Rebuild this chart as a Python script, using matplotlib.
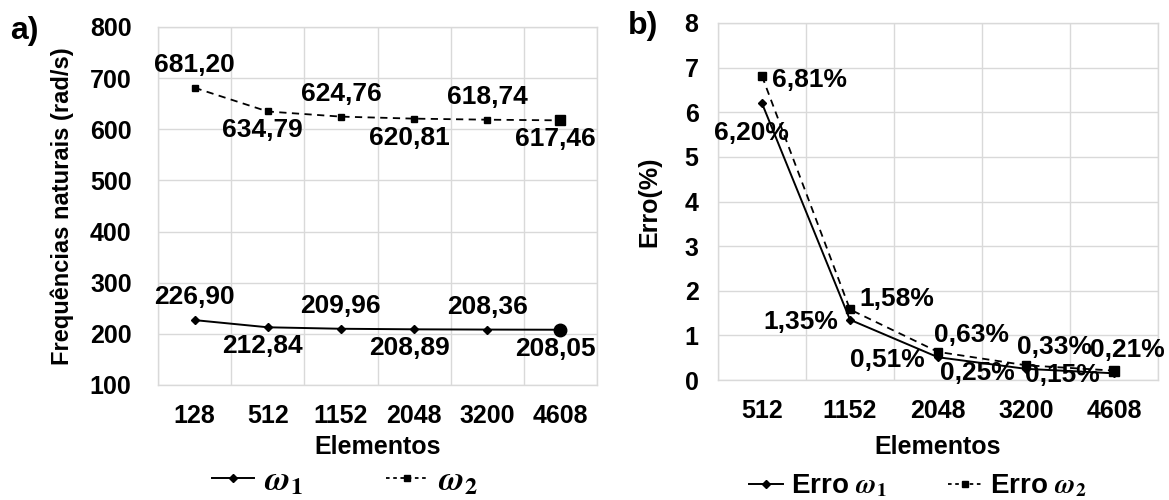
import matplotlib
matplotlib.use("Agg")
import matplotlib.pyplot as plt
from matplotlib.lines import Line2D

plt.rcParams['font.family'] = ['Liberation Sans', 'DejaVu Sans']
plt.rcParams['font.weight'] = 'bold'
plt.rcParams['mathtext.fontset'] = 'stix'

# ---- data ----
elements_a = ["128", "512", "1152", "2048", "3200", "4608"]
omega1 = [226.90, 212.84, 209.96, 208.89, 208.36, 208.05]
omega2 = [681.20, 634.79, 624.76, 620.81, 618.74, 617.46]
labels_w1 = ["226,90", "212,84", "209,96", "208,89", "208,36", "208,05"]
labels_w2 = ["681,20", "634,79", "624,76", "620,81", "618,74", "617,46"]

elements_b = ["512", "1152", "2048", "3200", "4608"]
err1 = [6.20, 1.35, 0.51, 0.25, 0.15]
err2 = [6.81, 1.58, 0.63, 0.33, 0.21]
labels_e1 = ["6,20%", "1,35%", "0,51%", "0,25%", "0,15%"]
labels_e2 = ["6,81%", "1,58%", "0,63%", "0,33%", "0,21%"]

W, H = 1169, 500
FS = 18
DFS = 19
grid_c = '#d9d9d9'

fig = plt.figure(figsize=(W / 100, H / 100), dpi=100)

def px_axes(x0, x1, y0, y1):
    return fig.add_axes([x0 / W, 1 - y1 / H, (x1 - x0) / W, (y1 - y0) / H])

axa = px_axes(158, 597, 27, 385)
axb = px_axes(718, 1158, 23, 380)

def style(ax, ypad):
    for s in ax.spines.values():
        s.set_color(grid_c)
        s.set_linewidth(1.0)
    ax.grid(True, which='major', color=grid_c, linewidth=1.0)
    ax.set_axisbelow(True)
    ax.tick_params(axis='y', length=0, labelsize=FS, pad=ypad)
    ax.tick_params(axis='x', which='both', length=0, labelsize=FS, pad=14)
    for t in ax.get_yticklabels() + ax.get_xticklabels(minor=True):
        t.set_fontweight('bold')

def cat_axis(ax, cats):
    n = len(cats)
    ax.set_xlim(-0.5, n - 0.5)
    ax.set_xticks([i - 0.5 for i in range(n + 1)])
    ax.set_xticklabels([""] * (n + 1))
    ax.set_xticks(list(range(n)), minor=True)
    ax.set_xticklabels(cats, minor=True)

# ---- panel a ----
xa = list(range(len(elements_a)))
axa.plot(xa, omega1, color='black', lw=1.4, marker='D', ms=4)
axa.plot(xa[-1], omega1[-1], 'o', color='black', ms=9)
axa.plot(xa, omega2, color='black', lw=1.3, ls=(0, (4, 3)), marker='s', ms=5)
axa.plot(xa[-1], omega2[-1], 's', color='black', ms=7.5)
cat_axis(axa, elements_a)
axa.set_ylim(100, 800)
axa.set_yticks(range(100, 801, 100))
style(axa, 19)
axa.set_ylabel("Frequências naturais (rad/s)", fontsize=17, fontweight='bold')
axa.yaxis.set_label_coords((74 - 158) / 439, 0.5)
axa.set_xlabel("Elementos", fontsize=FS, fontweight='bold')
axa.xaxis.set_label_coords(0.5, -(435 - 385) / 358, transform=axa.transAxes)

for series, labs in ((omega2, labels_w2), (omega1, labels_w1)):
    for i, (v, t) in enumerate(zip(series, labs)):
        dy = 23 if i % 2 == 0 else -19
        dx = 0 if i % 2 == 0 else -5
        axa.annotate(t, (xa[i], v), xytext=(dx, dy), textcoords='offset pixels',
                     ha='center', va='center', fontsize=DFS, fontweight='bold')

fig.text(10 / W, 1 - 31 / H, "a)", fontsize=23, fontweight='bold', va='center', ha='left')

h1 = Line2D([], [], color='black', lw=1.4, marker='D', ms=4)
h2 = Line2D([], [], color='black', lw=1.3, ls=(0, (2, 2)), marker='s', ms=5)
fig.legend([h1, h2], [r"$\boldsymbol{\omega}_\mathbf{1}$", r"$\boldsymbol{\omega}_\mathbf{2}$"],
           loc='center', bbox_to_anchor=(345 / W, 1 - 481 / H), ncol=2, frameon=False,
           prop={'size': 25}, handlelength=1.2, columnspacing=2.4, handletextpad=0.3,
           borderpad=0)

# ---- panel b ----
xb = list(range(len(elements_b)))
axb.plot(xb, err1, color='black', lw=1.4, marker='D', ms=4)
axb.plot(xb, err2, color='black', lw=1.3, ls=(0, (4, 3)), marker='s', ms=6)
axb.plot(xb[-1], err2[-1], 's', color='black', ms=7.5)
cat_axis(axb, elements_b)
axb.set_ylim(0, 8)
axb.set_yticks(range(0, 9))
style(axb, 14)
axb.set_ylabel("Erro(%)", fontsize=FS, fontweight='bold')
axb.yaxis.set_label_coords((661 - 718) / 440, 0.5)
axb.set_xlabel("Elementos", fontsize=FS, fontweight='bold')
axb.xaxis.set_label_coords(0.5, -(435 - 380) / 357, transform=axb.transAxes)

# (dx, dy, ha) in pixels, dy positive upward
off_e1 = [(-11, -30, 'center'), (-12, -2, 'right'), (-13, -3, 'right'),
          (-11, -4, 'right'), (-14, -2, 'right')]
off_e2 = [(10, -4, 'left'), (9, 10, 'left'), (-4, 17, 'left'),
          (-9, 18, 'left'), (-24, 21, 'left')]
for series, labs, offs in ((err1, labels_e1, off_e1), (err2, labels_e2, off_e2)):
    for i, (v, t) in enumerate(zip(series, labs)):
        dx, dy, ha = offs[i]
        axb.annotate(t, (xb[i], v), xytext=(dx, dy), textcoords='offset pixels',
                     ha=ha, va='center', fontsize=DFS, fontweight='bold')

fig.text(628 / W, 1 - 26 / H, "b)", fontsize=23, fontweight='bold', va='center', ha='left')

fig.legend([h1, h2], [r"Erro $\boldsymbol{\omega}_\mathbf{1}$", r"Erro $\boldsymbol{\omega}_\mathbf{2}$"],
           loc='center', bbox_to_anchor=(918 / W, 1 - 486 / H), ncol=2, frameon=False,
           prop={'size': 20, 'weight': 'bold'}, handlelength=1.2, columnspacing=2.2,
           handletextpad=0.3, borderpad=0)

fig.savefig("out.png", dpi=100)
